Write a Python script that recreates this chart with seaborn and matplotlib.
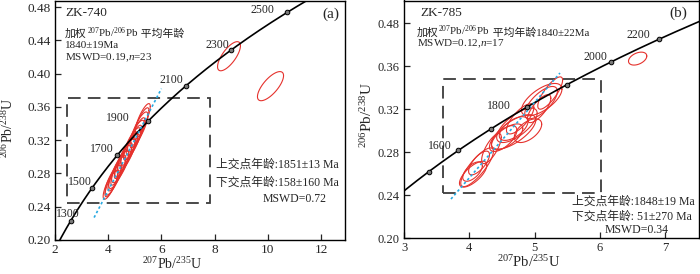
import numpy as np
import pandas as pd
import matplotlib
matplotlib.use("Agg")
import matplotlib.pyplot as plt
import seaborn as sns
from matplotlib.patches import Rectangle
from matplotlib.offsetbox import TextArea, HPacker, AnnotationBbox

# ---------------- data ----------------
L235 = 9.8485e-10
L238 = 1.55125e-10

# Panel (a) ZK-740
a_ages = [1300, 1500, 1700, 1900, 2100, 2300, 2500]
a_age_labels = ["1300", "1500", "1700", "1900", "2100", "2300", "2500"]
a_ell_x = [4.08, 4.13, 4.18, 4.25, 4.33, 4.38, 4.45, 4.50, 4.56, 4.62, 4.68,
           4.73, 4.79, 4.85, 4.90, 4.97, 5.04, 5.10, 5.17, 5.24, 5.30, 8.54, 10.10]
a_ell_y = [0.266, 0.268, 0.272, 0.276, 0.281, 0.284, 0.288, 0.291, 0.295, 0.299, 0.302,
           0.305, 0.309, 0.313, 0.316, 0.320, 0.325, 0.329, 0.334, 0.340, 0.346, 0.421, 0.385]
a_ell_sx = [0.27, 0.25, 0.30, 0.26, 0.31, 0.28, 0.32, 0.27, 0.31, 0.28, 0.32,
            0.29, 0.31, 0.27, 0.32, 0.29, 0.31, 0.28, 0.32, 0.29, 0.28, 0.43, 0.49]
a_ell_sy = [0.017, 0.016, 0.018, 0.017, 0.019, 0.018, 0.019, 0.017, 0.019, 0.018, 0.019,
            0.018, 0.019, 0.017, 0.019, 0.018, 0.019, 0.018, 0.020, 0.019, 0.018, 0.0175, 0.0175]
a_ell_rho = [0.80, 0.82, 0.79, 0.83, 0.80, 0.82, 0.79, 0.83, 0.80, 0.82, 0.79,
             0.83, 0.80, 0.82, 0.79, 0.82, 0.80, 0.83, 0.80, 0.82, 0.81, 0.72, 0.72]
a_disc_x = [3.47, 6.00]
a_disc_y = [0.227, 0.382]
a_xticks = [2, 4, 6, 8, 10, 12]
a_yticks = [0.20, 0.24, 0.28, 0.32, 0.36, 0.40, 0.44, 0.48]
a_ytick_labels = ["0.20", "0.24", "0.28", "0.32", "0.36", "0.40", "0.44", "0.48"]

# Panel (b) ZK-785
b_ages = [1500, 1600, 1700, 1800, 1900, 2000, 2100]
b_age_labels = ["1600", "1800", "2000", "2200"]
b_ell_x = [4.06, 4.12, 4.15, 4.34, 4.68, 4.73, 4.68, 4.58, 5.11, 5.10, 5.24, 5.07,
           4.78, 4.52, 4.90, 4.05, 6.58]
b_ell_y = [0.2596, 0.266, 0.270, 0.2834, 0.2989, 0.305, 0.302, 0.2943, 0.3289, 0.3261,
           0.335, 0.3205, 0.311, 0.2927, 0.3000, 0.262, 0.367]
b_ell_sx = [0.21, 0.25, 0.16, 0.15, 0.34, 0.31, 0.22, 0.24, 0.31, 0.25, 0.19, 0.18,
            0.21, 0.21, 0.21, 0.15, 0.14]
b_ell_sy = [0.012, 0.018, 0.011, 0.014, 0.016, 0.016, 0.011, 0.012, 0.015, 0.015,
            0.015, 0.013, 0.014, 0.012, 0.011, 0.009, 0.006]
b_ell_rho = [0.70, 0.82, 0.70, 0.75, 0.70, 0.70, 0.60, 0.65, 0.65, 0.70, 0.80, 0.75,
             0.75, 0.65, 0.55, 0.60, 0.40]
b_disc_x = [3.72, 5.39]
b_disc_y = [0.2365, 0.3536]
b_xticks = [3, 4, 5, 6, 7]
b_yticks = [0.20, 0.24, 0.28, 0.32, 0.36, 0.40]
b_ytick_labels = ["0.20", "0.24", "0.28", "0.32", "0.36", "0.48"]

# ---------------- style ----------------
sns.set_style("ticks")
SERIF = ["Liberation Serif", "Noto Sans CJK SC"]
plt.rcParams["font.family"] = SERIF
plt.rcParams["mathtext.fontset"] = "custom"
plt.rcParams["mathtext.rm"] = "Liberation Serif"
plt.rcParams["mathtext.it"] = "Liberation Serif:italic"
plt.rcParams["mathtext.bf"] = "Liberation Serif:bold"

RED = "#e5322d"
CYAN = "#27a9e1"
DASH = "#3c3c3c"

W, H = 700, 274
fig = plt.figure(figsize=(7.0, 2.74), dpi=100)


def frac(l, t, r, b):
    return [l / W, 1 - b / H, (r - l) / W, (b - t) / H]


ax_a = fig.add_axes(frac(55, 0.5, 345, 240))
ax_b = fig.add_axes(frac(404, 0.5, 699, 238.3))


def concordia(ages_ma):
    t = np.asarray(ages_ma, dtype=float) * 1e6
    return np.exp(L235 * t) - 1, np.exp(L238 * t) - 1


def draw_ellipses(ax, xs, ys, sxs, sys_, rhos):
    th = np.linspace(0, 2 * np.pi, 120)
    for cx, cy, sx, sy, r in zip(xs, ys, sxs, sys_, rhos):
        ex = cx + sx * np.cos(th)
        ey = cy + sy * (r * np.cos(th) + np.sqrt(1 - r ** 2) * np.sin(th))
        ax.plot(ex, ey, color=RED, lw=0.8, zorder=3)


def panel(ax, ages, xlim, ylim, ell, disc, rect, xticks, yticks, ytl, tsize):
    curve_t = np.linspace(900, 3000, 400)
    cx, cy = concordia(curve_t)
    sns.lineplot(x=cx, y=cy, ax=ax, color="black", lw=1.2, sort=False, zorder=4)
    px, py = concordia(ages)
    sns.scatterplot(x=px, y=py, ax=ax, marker="o", s=11, facecolor="#7a7a7a",
                    edgecolor="black", linewidth=0.7, zorder=6)
    draw_ellipses(ax, *ell)
    sns.lineplot(x=disc[0], y=disc[1], ax=ax, color=CYAN, lw=1.2,
                 linestyle=(0, (1.5, 1.5)), zorder=5)
    ax.add_patch(Rectangle((rect[0], rect[2]), rect[1] - rect[0], rect[3] - rect[2],
                           fill=False, ec=DASH, lw=1.3, ls=(0, (7, 4)), zorder=2))
    ax.set_xlim(*xlim)
    ax.set_ylim(*ylim)
    ax.set_xticks(xticks)
    ax.set_xticklabels([str(v) for v in xticks])
    ax.set_yticks(yticks)
    ax.set_yticklabels(ytl)
    ax.tick_params(direction="in", length=4, width=0.9, labelsize=tsize,
                   top=False, right=False, pad=3)
    for s in ax.spines.values():
        s.set_visible(True)
        s.set_linewidth(1.0)
        s.set_color("black")
    ax.set_xlabel("")
    ax.set_ylabel("")


panel(ax_a, a_ages, (2, 12.9), (0.20, 0.488),
      (a_ell_x, a_ell_y, a_ell_sx, a_ell_sy, a_ell_rho),
      (a_disc_x, a_disc_y), [2.44, 7.81, 0.245, 0.371],
      a_xticks, a_yticks, a_ytick_labels, 9.5)
panel(ax_b, b_ages, (3, 7.52), (0.20, 0.421),
      (b_ell_x, b_ell_y, b_ell_sx, b_ell_sy, b_ell_rho),
      (b_disc_x, b_disc_y), [3.60, 6.02, 0.2417, 0.348],
      b_xticks, b_yticks, b_ytick_labels, 9)

# concordia age labels
a_lab_pos = [(2.5, 0.231), (2.94, 0.270), (3.75, 0.309), (4.37, 0.347),
             (6.37, 0.392), (8.12, 0.435), (9.81, 0.477)]
for txt, (x, y) in zip(a_age_labels, a_lab_pos):
    ax_a.text(x, y, txt, fontsize=8.5, ha="center", va="center", zorder=7)
b_lab_pos = [(3.55, 0.2856), (4.45, 0.3227), (5.93, 0.3685), (6.59, 0.389)]
for txt, (x, y) in zip(b_age_labels, b_lab_pos):
    ax_b.text(x, y, txt, fontsize=8.5, ha="center", va="center", zorder=7)


def weighted_line(ax, x, y, tail, size):
    tp = dict(fontsize=size, family=SERIF, color="#222222")
    parts = [TextArea("加权", textprops=tp),
             TextArea(r"$^{207}$Pb/$^{206}$Pb", textprops=tp),
             TextArea(tail, textprops=tp)]
    box = HPacker(children=parts, align="baseline", pad=0, sep=0)
    ab = AnnotationBbox(box, (x, y), xycoords="data", box_alignment=(0, 0.5),
                        frameon=False, pad=0)
    ax.add_artist(ab)


# panel (a) annotations
ax_a.text(2.375, 0.4725, "ZK-740", fontsize=9.5, ha="left", va="center")
ax_a.text(12.37, 0.472, "(a)", fontsize=11, ha="center", va="center")
weighted_line(ax_a, 2.375, 0.4490, " 平均年龄", 7.8)
ax_a.text(2.375, 0.4335, "1840±19Ma", fontsize=8, ha="left", va="center")
ax_a.text(2.375, 0.4195, r"MSWD=0.19,$n$=23", fontsize=8, ha="left", va="center")
ax_a.text(8.06, 0.290, "上交点年龄:1851±13 Ma", fontsize=8.5, ha="left", va="center")
ax_a.text(8.06, 0.2688, "下交点年龄:158±160 Ma", fontsize=8.5, ha="left", va="center")
ax_a.text(9.81, 0.249, "MSWD=0.72", fontsize=8.5, ha="left", va="center")

# panel (b) annotations
ax_b.text(3.245, 0.409, "ZK-785", fontsize=9.5, ha="left", va="center")
ax_b.text(7.21, 0.4087, "(b)", fontsize=11, ha="center", va="center")
weighted_line(ax_b, 3.195, 0.3925, " 平均年龄1840±22Ma", 7.8)
ax_b.text(3.195, 0.3805, r"MSWD=0.12,$n$=17", fontsize=8, ha="left", va="center")
ax_b.text(5.57, 0.234, "上交点年龄:1848±19 Ma", fontsize=8.5, ha="left", va="center")
ax_b.text(5.57, 0.220, "下交点年龄: 51±270 Ma", fontsize=8.5, ha="left", va="center")
ax_b.text(6.08, 0.2077, "MSWD=0.34", fontsize=8.5, ha="left", va="center")

# axis labels
fig.text(171.7 / W, 1 - 264 / H, r"$^{207}$Pb/$^{235}$U", fontsize=10,
         ha="center", va="center")
fig.text(528.3 / W, 1 - 262 / H, r"$^{207}$Pb/$^{235}$U", fontsize=10.5,
         ha="center", va="center")
fig.text(8 / W, 1 - 128 / H, r"$^{206}$Pb/$^{238}$U", fontsize=10,
         ha="center", va="center", rotation=90)
fig.text(367 / W, 1 - 115 / H, r"$^{206}$Pb/$^{238}$U", fontsize=11,
         ha="center", va="center", rotation=90)

fig.savefig("out.png", dpi=100)
